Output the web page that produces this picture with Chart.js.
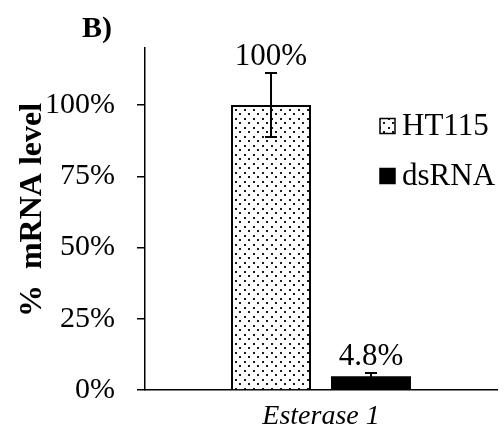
<!DOCTYPE html>
<html>
<head>
<meta charset="utf-8">
<script src="https://cdn.jsdelivr.net/npm/chart.js@4.4.1/dist/chart.umd.min.js"></script>
<style>
  html, body { margin: 0; padding: 0; background: #ffffff; }
  #wrap { width: 504px; height: 443px; position: relative; }
</style>
</head>
<body>
<div id="wrap"><canvas id="c" width="504" height="443"></canvas></div>
<script>
// Relative expression data
const categories = ['Esterase 1'];
const seriesNames = ['HT115', 'dsRNA'];
const ht115Values = [100];
const dsrnaValues = [4.8];
const ht115Errors = [11.2];
const dsrnaErrors = [1.2];
const valueLabels = ['100%', '4.8%'];
const yTicks = [0, 25, 50, 75, 100];
const yTitle = '%  mRNA level';
const panelLetter = 'B)';

const SERIF = '"Liberation Serif", "Times New Roman", serif';

// Dotted fill for the control bar
function dotPattern() {
  const t = document.createElement('canvas');
  t.width = 9; t.height = 9;
  const g = t.getContext('2d');
  g.fillStyle = '#ffffff';
  g.fillRect(0, 0, 9, 9);
  g.fillStyle = '#1a1a1a';
  g.fillRect(1, 1, 2, 2);
  g.fillRect(5, 5, 2, 2);
  return document.getElementById('c').getContext('2d').createPattern(t, 'repeat');
}
const dots = dotPattern();

const errorsByDataset = [ht115Errors, dsrnaErrors];

// Error bars and value labels above each bar
const errorBarPlugin = {
  id: 'errorBars',
  afterDatasetsDraw(chart) {
    const ctx = chart.ctx;
    const y = chart.scales.y;
    chart.data.datasets.forEach((ds, di) => {
      const meta = chart.getDatasetMeta(di);
      meta.data.forEach((bar, i) => {
        const v = ds.data[i];
        const e = errorsByDataset[di][i];
        const yTop = y.getPixelForValue(v + e);
        const yBot = y.getPixelForValue(v - e);
        const x = bar.x;
        ctx.save();
        ctx.strokeStyle = '#000';
        ctx.lineWidth = 2;
        ctx.beginPath();
        ctx.moveTo(x, yTop); ctx.lineTo(x, yBot);
        ctx.moveTo(x - 6, yTop); ctx.lineTo(x + 6, yTop);
        ctx.moveTo(x - 6, yBot); ctx.lineTo(x + 6, yBot);
        ctx.stroke();
        ctx.fillStyle = '#000';
        ctx.font = '31px ' + SERIF;
        ctx.textAlign = 'center';
        ctx.textBaseline = 'alphabetic';
        ctx.fillText(valueLabels[di], x, yTop - 8);
        ctx.restore();
      });
    });
  }
};

// Panel letter, axis title and legend
const decorPlugin = {
  id: 'decor',
  afterDraw(chart) {
    const ctx = chart.ctx;
    ctx.save();
    ctx.fillStyle = '#000';
    ctx.font = 'bold 30px ' + SERIF;
    ctx.textAlign = 'left';
    ctx.textBaseline = 'alphabetic';
    ctx.fillText(panelLetter, 82, 37);

    ctx.save();
    ctx.translate(33, 210);
    ctx.rotate(-Math.PI / 2);
    ctx.font = 'bold 32px ' + SERIF;
    ctx.textAlign = 'center';
    ctx.textBaseline = 'middle';
    ctx.fillText(yTitle, 0, 0);
    ctx.restore();

    const rows = [126, 176];
    chart.data.datasets.forEach((ds, di) => {
      const cy = rows[di];
      const bx = 380, size = 15;
      ctx.fillStyle = ds.backgroundColor;
      ctx.fillRect(bx, cy - size / 2, size, size);
      ctx.strokeStyle = '#000';
      ctx.lineWidth = 1.5;
      ctx.strokeRect(bx, cy - size / 2, size, size);
      ctx.fillStyle = '#000';
      ctx.font = '31px ' + SERIF;
      ctx.textAlign = 'left';
      ctx.textBaseline = 'middle';
      ctx.fillText(ds.label, 402, cy + 1);
    });
    ctx.restore();
  }
};

new Chart(document.getElementById('c'), {
  type: 'bar',
  data: {
    labels: categories,
    datasets: [
      {
        label: seriesNames[0],
        data: ht115Values,
        backgroundColor: dots,
        borderColor: '#000',
        borderWidth: 2,
        barPercentage: 0.8,
        categoryPercentage: 0.568
      },
      {
        label: seriesNames[1],
        data: dsrnaValues,
        backgroundColor: '#000',
        borderColor: '#000',
        borderWidth: 0,
        barPercentage: 0.8,
        categoryPercentage: 0.568
      }
    ]
  },
  options: {
    responsive: false,
    animation: false,
    devicePixelRatio: 1,
    layout: { padding: { top: 48, right: 7, left: 0, bottom: 0 } },
    plugins: {
      legend: { display: false },
      tooltip: { enabled: false }
    },
    scales: {
      x: {
        grid: { display: false, drawTicks: false },
        border: { display: true, color: '#000', width: 1.5 },
        ticks: {
          color: '#000',
          padding: 10,
          font: { family: SERIF, size: 28, style: 'italic' }
        },
        afterFit(scale) { scale.height = 53; }
      },
      y: {
        min: 0,
        max: 120,
        afterBuildTicks(scale) { scale.ticks = yTicks.map(v => ({ value: v })); },
        grid: {
          drawOnChartArea: false,
          drawTicks: true,
          tickLength: 8,
          color: '#000',
          lineWidth: 1.5
        },
        border: { display: true, color: '#000', width: 1.5 },
        ticks: {
          color: '#000',
          padding: 22,
          font: { family: SERIF, size: 30 },
          callback: v => v + '%'
        },
        afterFit(scale) { scale.width = 145; }
      }
    }
  },
  plugins: [errorBarPlugin, decorPlugin]
});
</script>
</body>
</html>
